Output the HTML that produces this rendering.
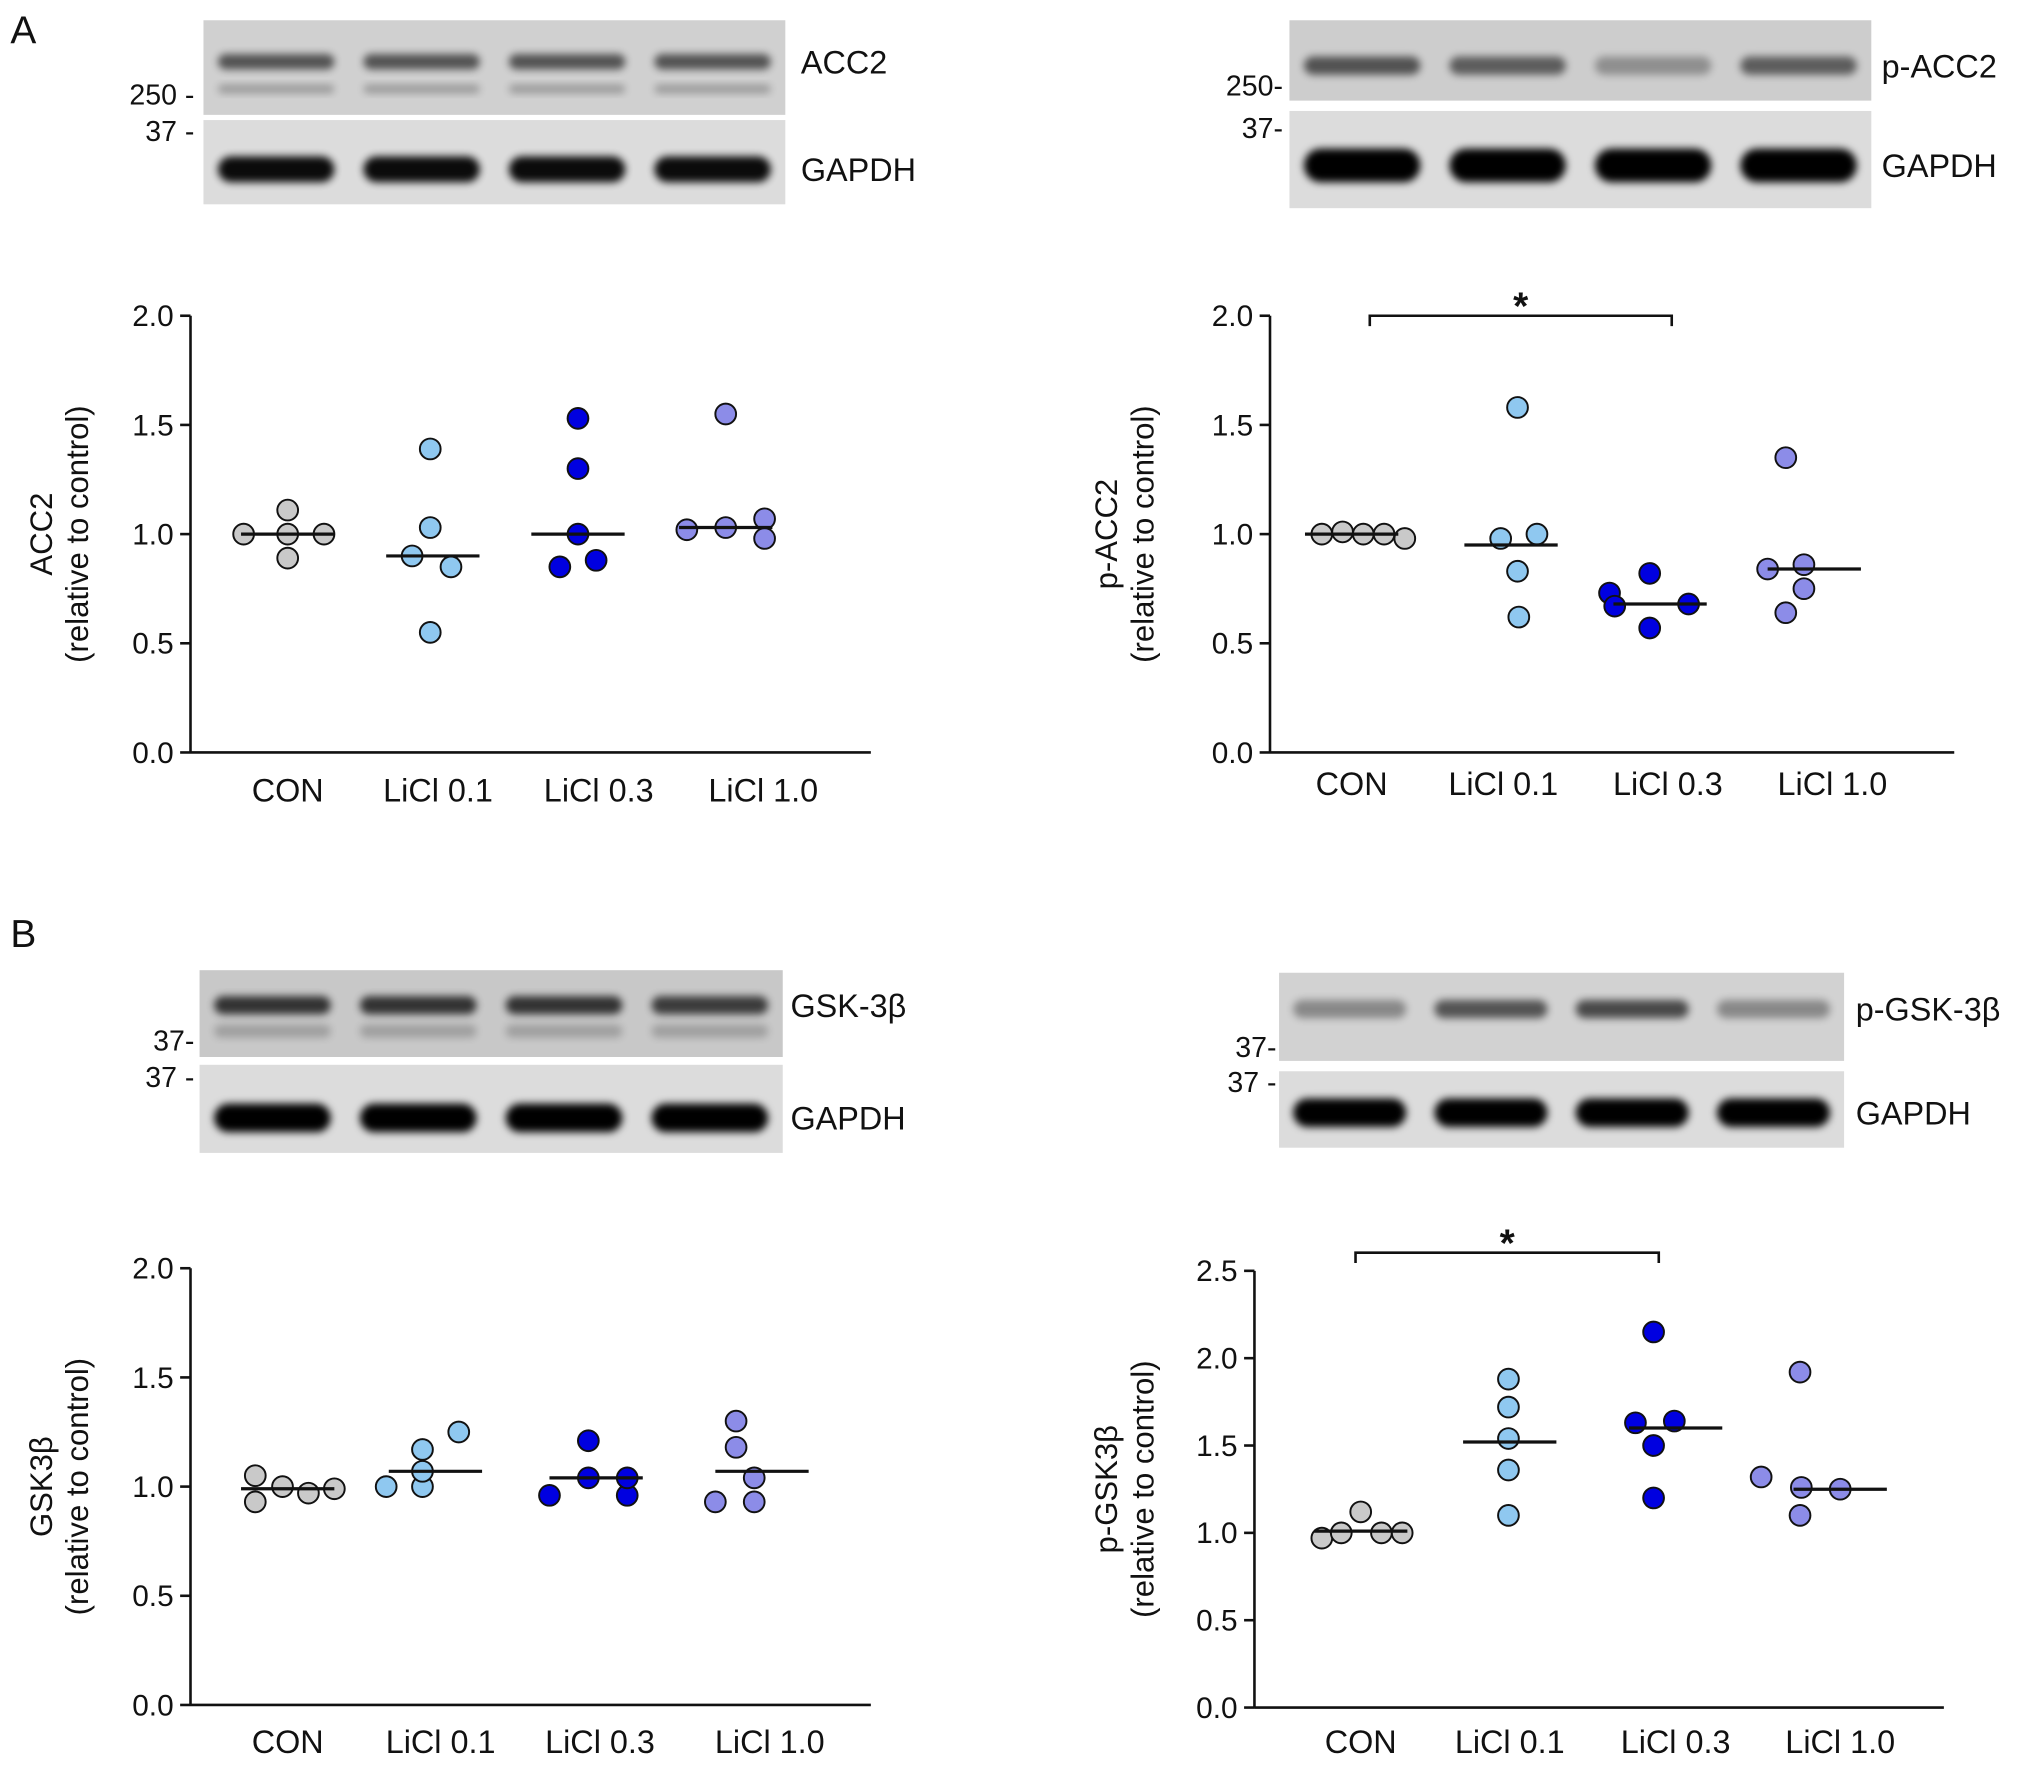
<!DOCTYPE html>
<html><head><meta charset="utf-8"><style>
html,body{margin:0;padding:0;background:#fff}
svg{display:block}
text{font-family:"Liberation Sans",sans-serif;fill:#111}
</style></head><body>
<svg id="fig" width="2032" height="1768" viewBox="0 0 1568 1363" xmlns="http://www.w3.org/2000/svg">
<defs><filter id="blur" x="-10%" y="-50%" width="120%" height="200%"><feGaussianBlur stdDeviation="3"/></filter>
<filter id="blur2" x="-10%" y="-50%" width="120%" height="200%"><feGaussianBlur stdDeviation="1.5"/></filter></defs>
<text x="8" y="33" font-size="30">A</text>
<text x="8" y="730" font-size="30">B</text>
<g id="blots"></g>
<g id="charts"></g>
</svg>
<script>
const NS="http://www.w3.org/2000/svg";
function mk(tag,attrs,parent,txt){const e=document.createElementNS(NS,tag);for(const k in attrs)e.setAttribute(k,attrs[k]);if(txt!==undefined)e.textContent=txt;parent.appendChild(e);return e;}
const categories=["CON","LiCl 0.1","LiCl 0.3","LiCl 1.0"];
const colors=["#c9c9c9","#8fc8f0","#0000e0","#8c8ce8"];
// ACC2
const acc2Values=[[1.0,1.11,1.0,0.89,1.0],[1.39,1.03,0.9,0.85,0.55],[1.53,1.3,1.0,0.85,0.88],[1.55,1.02,1.03,1.07,0.98]];
const acc2Means=[1.0,0.9,1.0,1.03];
// p-ACC2
const pacc2Values=[[1.0,1.01,1.0,1.0,0.98],[1.58,0.98,1.0,0.83,0.62],[0.73,0.82,0.67,0.68,0.57],[1.35,0.84,0.86,0.75,0.64]];
const pacc2Means=[1.0,0.95,0.68,0.84];
// GSK3b
const gskValues=[[1.05,0.93,1.0,0.97,0.99],[1.0,1.17,1.25,1.0,1.07],[1.21,0.96,0.96,1.04,1.04],[1.3,1.18,1.04,0.93,0.93]];
const gskMeans=[0.99,1.07,1.04,1.07];
// p-GSK3b
const pgskValues=[[0.97,1.0,1.12,1.0,1.0],[1.88,1.72,1.54,1.36,1.1],[2.15,1.63,1.64,1.5,1.2],[1.92,1.32,1.26,1.25,1.1]];
const pgskMeans=[1.01,1.52,1.6,1.25];
const yTicks2=["0.0","0.5","1.0","1.5","2.0"];
const yTicks25=["0.0","0.5","1.0","1.5","2.0","2.5"];

const jitters={
 acc2:[[-34,0,0,0,28],[-2,-2,-16,14,-2],[0,0,0,-14,14],[0,-30,0,30,30]],
 pacc2:[[-23,-7,9,25,41],[5,-8,20,5,6],[-39,-8,-35,22,-8],[-22,-36,-8,-8,-22]],
 gsk:[[-25,-25,-4,16,36],[-38,-10,18,-10,-10],[-6,-36,24,-6,24],[-20,-20,-6,-36,-6]],
 pgsk:[[-30,-15,0,16,32],[-1,-1,-1,-1,-1],[-17,-31,-1,-17,-17],[-31,-61,-30,0,-31]]
};

function chart(o){
 const g=mk('g',{},document.getElementById('charts'));
 const y=v=>o.y0-(v/o.max)*(o.y0-o.yTop);
 mk('line',{x1:o.ax,y1:o.yTop,x2:o.ax,y2:o.y0,stroke:'#111','stroke-width':2},g);
 mk('line',{x1:o.ax,y1:o.y0,x2:o.xEnd,y2:o.y0,stroke:'#111','stroke-width':2},g);
 o.ticks.forEach(t=>{const v=parseFloat(t);
  mk('line',{x1:o.ax-8,y1:y(v),x2:o.ax,y2:y(v),stroke:'#111','stroke-width':2},g);
  const tx=mk('text',{x:o.ax-13,y:y(v)+8,'font-size':23,'text-anchor':'end'},g,t);
  
  
 });
 const tl=mk('text',{transform:`translate(${o.tx},${(o.y0+o.yTop)/2}) rotate(-90)`,'font-size':24,'text-anchor':'middle'},g,o.title);
 
 const t2=mk('text',{transform:`translate(${o.tx+28},${(o.y0+o.yTop)/2}) rotate(-90)`,'font-size':24,'text-anchor':'middle'},g,'(relative to control)');
 
 categories.forEach((c,i)=>{
  const cl=mk('text',{x:o.cx[i],y:o.labY,'font-size':25,'text-anchor':'middle'},g,c);
  
  o.vals[i].forEach((v,j)=>{
   const p=mk('circle',{cx:o.gx[i]+o.jit[i][j],cy:y(v),r:8,fill:colors[i],stroke:'#111','stroke-width':1.5},g);
   
   
  });
  const m=mk('line',{x1:o.gx[i]-36,y1:y(o.means[i]),x2:o.gx[i]+36,y2:y(o.means[i]),stroke:'#111','stroke-width':2.5},g);
  
 });
 if(o.sig){const b=mk('path',{d:`M${o.sig[0]},${o.sig[2]+8}V${o.sig[2]}H${o.sig[1]}V${o.sig[2]+8}`,fill:'none',stroke:'#111','stroke-width':2},g);
  
  const s=mk('text',{x:(o.sig[0]+o.sig[1])/2,y:o.sig[2]+3,'font-size':30,'font-weight':'bold','text-anchor':'middle'},g,'*');
  }
}
chart({name:'acc2-chart',ax:147,xEnd:672,y0:580,yTop:243,max:2,ticks:yTicks2,tx:40,title:'ACC2',cx:[222,338,462,589],gx:[222,334,446,560],labY:618,vals:acc2Values,means:acc2Means,jit:jitters.acc2});
chart({name:'p-acc2-chart',ax:980,xEnd:1508,y0:580,yTop:243,max:2,ticks:yTicks2,tx:862,title:'p-ACC2',cx:[1043,1160,1287,1414],gx:[1043,1166,1281,1400],labY:613,vals:pacc2Values,means:pacc2Means,jit:jitters.pacc2,sig:[1057,1290,243]});
chart({name:'gsk3b-chart',ax:147,xEnd:672,y0:1315,yTop:978,max:2,ticks:yTicks2,tx:40,title:'GSK3β',cx:[222,340,463,594],gx:[222,336,460,588],labY:1352,vals:gskValues,means:gskMeans,jit:jitters.gsk});
chart({name:'p-gsk3b-chart',ax:968,xEnd:1500,y0:1317,yTop:980,max:2.5,ticks:yTicks25,tx:862,title:'p-GSK3β',cx:[1050,1165,1293,1420],gx:[1050,1165,1293,1420],labY:1352,vals:pgskValues,means:pgskMeans,jit:jitters.pgsk,sig:[1046,1280,966]});

function blot(name,x,y,w,h,bg,bandY,bandH,ints,label,labX){
 const g=mk('g',{},document.getElementById('blots'));
 mk('rect',{x:x,y:y,width:w,height:h,fill:bg},g);
 const lw=w/4;
 ints.forEach((a,i)=>{mk('rect',{x:x+lw*i+lw*0.1,y:bandY-bandH/2,width:lw*0.8,height:bandH,rx:bandH/2,fill:'#000',opacity:a,filter:'url(#blur)'},g);});
 const t=mk('text',{x:labX,y:bandY+9,'font-size':25},g,label);
 
}
function mw(txt,x,y){const t=mk('text',{x:x,y:y,'font-size':22,'text-anchor':'end'},document.getElementById('blots'),txt);}
blot('acc2-blot',157,15,449,73,'#d0d0d0',47,12,[0.6,0.6,0.6,0.6],'ACC2',618);
blot('acc2-blot-lower',157,15,449,73,'none',68,7,[0.25,0.25,0.25,0.25],'',0);
blot('gapdh-blot-a1',157,92,449,65,'#dcdcdc',130,20,[0.95,0.95,0.95,0.95],'GAPDH',618);
mw('250 -',150,80);mw('37 -',150,108);
blot('p-acc2-blot',995,15,449,62,'#cdcdcd',50,14,[0.6,0.55,0.3,0.55],'p-ACC2',1452);
blot('gapdh-blot-a2',995,85,449,75,'#dcdcdc',127,26,[1,1,1,1],'GAPDH',1452);
mw('250-',990,73);mw('37-',990,106);
blot('gsk3b-blot',154,748,450,67,'#c8c8c8',775,14,[0.75,0.75,0.75,0.7],'GSK-3β',610);
blot('gsk3b-blot-lower',154,748,450,67,'none',795,10,[0.2,0.2,0.2,0.2],'',0);
blot('gapdh-blot-b1',154,821,450,68,'#dcdcdc',862,22,[1,1,1,1],'GAPDH',610);
mw('37-',150,810);mw('37 -',150,838);
blot('p-gsk3b-blot',987,750,436,68,'#d2d2d2',778,14,[0.35,0.6,0.65,0.35],'p-GSK-3β',1432);
blot('gapdh-blot-b2',987,826,436,59,'#dcdcdc',858,22,[1,1,1,1],'GAPDH',1432);
mw('37-',985,815);mw('37 -',985,842);
</script>
</body></html>
